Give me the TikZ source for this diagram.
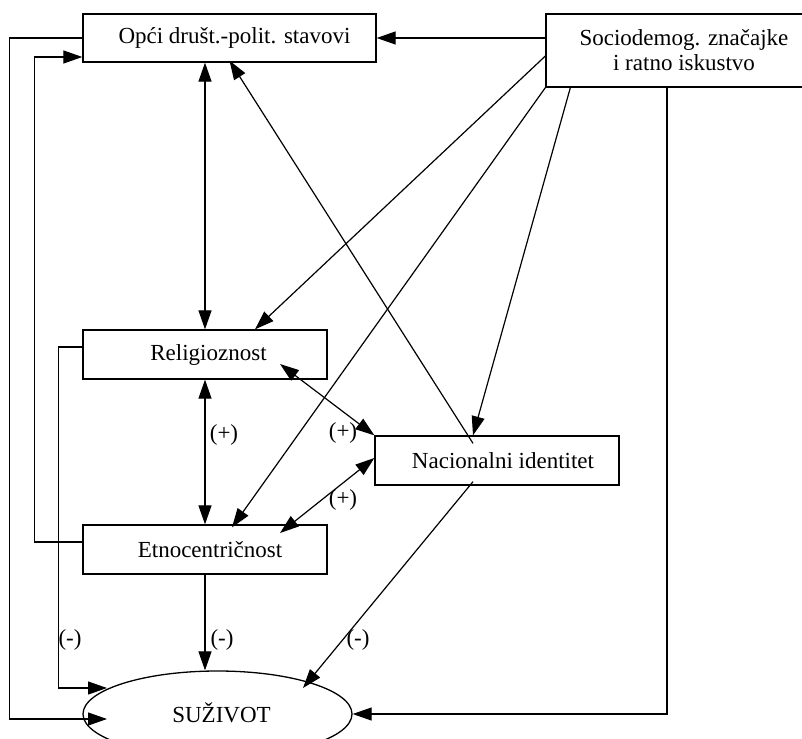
\documentclass[tikz,border=0pt]{standalone}
\usepackage{fontspec}
\setmainfont{Liberation Serif}
\usetikzlibrary{arrows.meta,shapes.geometric,calc}
\begin{document}
\begin{tikzpicture}[x=1pt,y=-1pt,
  box/.style={draw, line width=1.3pt, rectangle, minimum width=244pt, minimum height=49pt, inner sep=0pt, font=\fontsize{23}{25}\selectfont, align=center},
  conn/.style={line width=1.2pt, -{Triangle[length=19pt,width=13pt]}},
  bi/.style={line width=1.2pt, {Triangle[length=19pt,width=13pt]}-{Triangle[length=19pt,width=13pt]}},
  lab/.style={font=\fontsize{23}{25}\selectfont, inner sep=0pt}]
\useasboundingbox (0,0) rectangle (802,738);
\clip (0,0) rectangle (802,738);
\node[box, minimum width=293pt, minimum height=48pt] (opci) at (229.5,38) {\hspace*{10pt}Opći društ.-polit. stavovi};
\node[box, minimum width=276pt, minimum height=73pt] (socio) at (684,50.5) {Sociodemog. značajke\\i ratno iskustvo};
\node[box] (relig) at (205,354.5) {\hspace*{7pt}Religioznost};
\node[box] (etno) at (205,549.5) {\hspace*{10pt}Etnocentričnost};
\node[box] (nac) at (497,460.5) {\hspace*{12pt}Nacionalni identitet};
\node[ellipse, draw, line width=1.3pt, minimum width=269pt, minimum height=86pt, inner sep=0pt, font=\fontsize{23}{25}\selectfont] (suz) at (217.5,714) {\raisebox{3pt}{\hspace*{8pt}SUŽIVOT}};

\draw[conn] (socio.west |- opci.east) -- (opci.east);
\draw[conn] ([yshift=-5.5pt]socio.west) -- ([xshift=50pt]relig.north);
\draw[conn] (socio.south west) -- ([xshift=27pt,yshift=-3pt]etno.north);
\draw[conn] ([xshift=25pt]socio.south west) -- ([xshift=-24pt]nac.north);
\draw[conn] ([xshift=-17pt]socio.south) |- (suz.east);
\draw[conn] ([xshift=-24pt,yshift=-8pt]nac.north) -- ([yshift=2pt]opci.south);
\draw[conn] ([xshift=-24pt,yshift=4pt]nac.south) -- ([xshift=85.5pt,yshift=26pt]suz.center);
\draw[bi] ([xshift=75pt,yshift=-9.5pt]relig.center) -- (nac.north west);
\draw[bi] ([xshift=75pt,yshift=16.5pt]etno.center) -- ([yshift=2.5pt]nac.west);
\draw[bi] (opci.south -| relig.north) -- (relig.north);
\draw[bi] (relig.south) -- (etno.north);
\draw[conn] (etno.south) -- (etno.south |- suz.north);
\draw[conn] (opci.west) -- ++(-73,0) |- ([xshift=-110.5pt,yshift=-5pt]suz.center);
\draw[conn] ([yshift=7.5pt]relig.west) -- ++(-24,0) |- ([xshift=-110.5pt,yshift=26pt]suz.center);
\draw[conn] ([yshift=7.5pt]etno.west) -- ++(-48,0) |- ([yshift=-19pt]opci.west);

\node[lab] (p1) at (224,435) {(+)};
\node[lab] (p2) at (343,433) {(+)};
\node[lab] (p3) at (343,500) {(+)};
\node[lab] (m1) at (70,640) {(-)};
\node[lab] (m2) at (222,640) {(-)};
\node[lab] (m3) at (358,640) {(-)};
\end{tikzpicture}
\end{document}
